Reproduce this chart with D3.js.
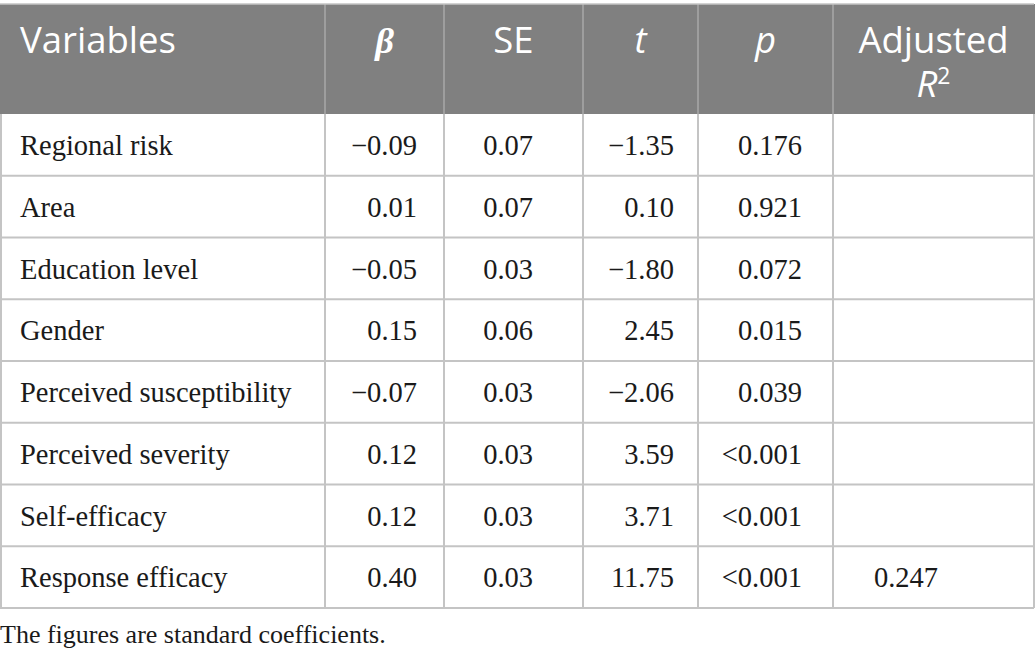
<!DOCTYPE html>
<html>
<head>
<meta charset="utf-8">
<script src="https://cdn.jsdelivr.net/npm/d3@7"></script>
<style>
  body { margin: 0; background: #fff; }
  .head { font-family: "Open Sans", sans-serif; fill: #fff; font-size: 36.5px; }
  .cell { font-family: "Liberation Serif", serif; fill: #1a1a1a; font-size: 28.5px; }
  .note { font-family: "Liberation Serif", serif; fill: #1a1a1a; font-size: 26px; }
</style>
</head>
<body>
<script>
// table data
var variables = ["Regional risk", "Area", "Education level", "Gender",
    "Perceived susceptibility", "Perceived severity", "Self-efficacy", "Response efficacy"];
var beta = ["\u22120.09", "0.01", "\u22120.05", "0.15", "\u22120.07", "0.12", "0.12", "0.40"];
var se = ["0.07", "0.07", "0.03", "0.06", "0.03", "0.03", "0.03", "0.03"];
var tVals = ["\u22121.35", "0.10", "\u22121.80", "2.45", "\u22122.06", "3.59", "3.71", "11.75"];
var pVals = ["0.176", "0.921", "0.072", "0.015", "0.039", "<0.001", "<0.001", "<0.001"];
var adjR2 = ["", "", "", "", "", "", "", "0.247"];
var note = "The figures are standard coefficients.";

window.onload = drawTable();

function drawTable(){

    var width = 1035,
        height = 660;

    var colEdges = [0, 325, 444, 583, 698, 833, 1034],
        numRight = [417, 533, 674, 802, 938],
        headTop = 4,
        headBottom = 114,
        tableBottom = 608;

    var svg = d3.select("body")
        .append("svg")
        .attr("width", width)
        .attr("height", height);

    var y = d3.scaleBand()
        .domain(variables)
        .range([headBottom, tableBottom]);

    // header background
    svg.append("rect")
        .attr("x", 0)
        .attr("y", headTop)
        .attr("width", colEdges[6] + 1)
        .attr("height", headBottom - headTop)
        .attr("fill", "#808080");

    // header separators
    svg.selectAll(".hsep")
        .data(colEdges.slice(1, 6))
        .enter()
        .append("line")
        .attr("x1", function(d){ return d; })
        .attr("x2", function(d){ return d; })
        .attr("y1", headTop)
        .attr("y2", headBottom)
        .attr("stroke", "#a8a8a8")
        .attr("stroke-width", 1.5);

    // header text
    var headG = svg.append("g").attr("class", "head");
    headG.append("text").attr("x", 20).attr("y", 53).text("Variables");

    function colMid(i){ return (colEdges[i] + colEdges[i + 1]) / 2; }

    headG.append("text")
        .attr("x", colMid(1)).attr("y", 53)
        .attr("text-anchor", "middle")
        .style("font-family", "'Liberation Serif', serif")
        .style("font-style", "italic")
        .style("font-weight", "bold")
        .text("\u03b2");
    headG.append("text")
        .attr("x", colMid(2)).attr("y", 53)
        .attr("text-anchor", "middle")
        .text("SE");
    headG.append("text")
        .attr("x", colMid(3)).attr("y", 53)
        .attr("text-anchor", "middle")
        .style("font-style", "italic")
        .text("t");
    headG.append("text")
        .attr("x", colMid(4)).attr("y", 53)
        .attr("text-anchor", "middle")
        .style("font-style", "italic")
        .text("p");
    headG.append("text")
        .attr("x", colMid(5)).attr("y", 53)
        .attr("text-anchor", "middle")
        .text("Adjusted");
    var r2 = headG.append("text")
        .attr("x", colMid(5)).attr("y", 97)
        .attr("text-anchor", "middle");
    r2.append("tspan").style("font-style", "italic").text("R");
    r2.append("tspan").attr("dy", -13).style("font-size", "23px").text("2");

    // body grid
    var rowLines = variables.map(function(d){ return y(d) + y.bandwidth(); });
    svg.selectAll(".rline")
        .data(rowLines)
        .enter()
        .append("line")
        .attr("x1", 0)
        .attr("x2", colEdges[6])
        .attr("y1", function(d){ return d; })
        .attr("y2", function(d){ return d; })
        .attr("stroke", "#c4c4c4")
        .attr("stroke-width", 2);

    svg.selectAll(".vline")
        .data(colEdges)
        .enter()
        .append("line")
        .attr("x1", function(d){ return d === 0 ? 1 : d; })
        .attr("x2", function(d){ return d === 0 ? 1 : d; })
        .attr("y1", headBottom)
        .attr("y2", tableBottom)
        .attr("stroke", "#c4c4c4")
        .attr("stroke-width", 2);

    svg.append("line")
        .attr("x1", 0).attr("x2", colEdges[6])
        .attr("y1", headTop).attr("y2", headTop)
        .attr("stroke", "#c4c4c4")
        .attr("stroke-width", 1.5);

    // cells
    var rows = svg.selectAll(".row")
        .data(variables)
        .enter()
        .append("g")
        .attr("class", "cell")
        .attr("transform", function(d){ return "translate(0," + (y(d) + 41) + ")"; });

    rows.append("text")
        .attr("x", 20)
        .text(function(d){ return d; });

    var cols = [beta, se, tVals, pVals, adjR2];
    cols.forEach(function(col, ci){
        rows.append("text")
            .attr("x", numRight[ci])
            .attr("text-anchor", "end")
            .text(function(d, i){ return col[i]; });
    });

    svg.append("text")
        .attr("class", "note")
        .attr("x", 0)
        .attr("y", 643)
        .text(note);
};
</script>
</body>
</html>
